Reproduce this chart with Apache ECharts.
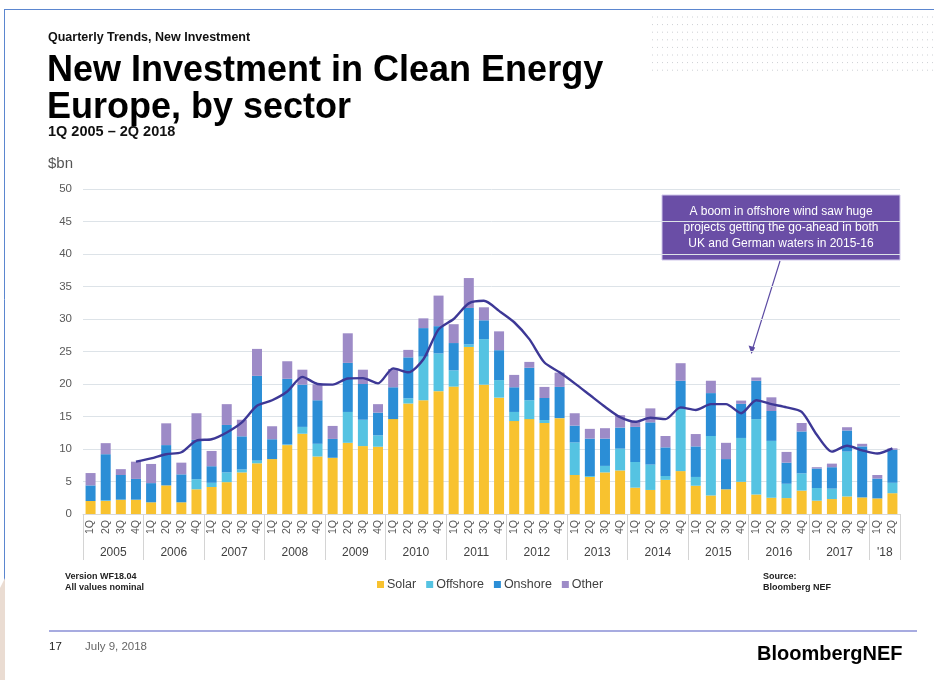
<!DOCTYPE html>
<html>
<head>
<meta charset="utf-8">
<script src="https://cdn.jsdelivr.net/npm/echarts@6/dist/echarts.min.js"></script>
<style>
  html, body { margin: 0; padding: 0; background: #ffffff; }
  #chart { width: 934px; height: 680px; }
</style>
</head>
<body>
<div id="chart"></div>
<script>
// Quarter tick labels, 1Q 2005 through 2Q 2018
const quarterLabels = [
  '1Q','2Q','3Q','4Q', '1Q','2Q','3Q','4Q', '1Q','2Q','3Q','4Q', '1Q','2Q','3Q','4Q',
  '1Q','2Q','3Q','4Q', '1Q','2Q','3Q','4Q', '1Q','2Q','3Q','4Q', '1Q','2Q','3Q','4Q',
  '1Q','2Q','3Q','4Q', '1Q','2Q','3Q','4Q', '1Q','2Q','3Q','4Q', '1Q','2Q','3Q','4Q',
  '1Q','2Q','3Q','4Q', '1Q','2Q'
];
// Year group labels and their centre positions (in quarters from the left edge)
const yearLabels = ['2005','2006','2007','2008','2009','2010','2011','2012','2013','2014','2015','2016','2017',"'18"];
const yearCentres = [2, 6, 10, 14, 18, 22, 26, 30, 34, 38, 42, 46, 50, 53];
const yearBounds = [0, 4, 8, 12, 16, 20, 24, 28, 32, 36, 40, 44, 48, 52, 54];

// New investment by sector, $bn per quarter
const solar = [
  2.0, 2.0, 2.2, 2.2,   1.8, 4.4, 1.8, 3.8,   4.15, 4.9, 6.4, 7.8,   8.45, 10.6, 12.35, 8.85,
  8.65, 10.95, 10.45, 10.35,   14.6, 17.0, 17.5, 18.9,   19.6, 25.7, 19.9, 17.9,   14.3, 14.6, 14.0, 14.75,
  6.0, 5.7, 6.4, 6.7,   4.05, 3.7, 5.25, 6.6,   4.35, 2.85, 3.8, 4.95,   3.0, 2.5, 2.45, 3.6,
  2.05, 2.3, 2.7, 2.55,   2.4, 3.2
];
const offshore = [
  0, 0.1, 0, 0,   0, 0, 0, 1.55,   0.65, 1.5, 0.45, 0.45,   0, 0.1, 1.05, 1.95,
  0, 4.75, 4.05, 1.75,   0, 0.8, 6.7, 5.8,   2.5, 0.4, 7.0, 2.7,   1.4, 2.9, 0.45, 0,
  5.0, 0.15, 1.0, 3.35,   3.95, 3.9, 0.6, 9.55,   1.35, 9.15, 0, 6.75,   11.6, 8.75, 2.2, 2.65,
  1.95, 1.6, 6.9, 0,   0, 1.6
];
const onshore = [
  2.4, 7.1, 3.8, 3.2,   2.95, 6.2, 4.3, 6.05,   2.55, 7.3, 5.1, 13.0,   3.05, 10.1, 6.5, 6.7,
  2.9, 7.55, 5.5, 3.5,   4.9, 6.3, 4.4, 4.2,   4.2, 5.6, 2.9, 4.6,   3.8, 5.0, 3.4, 4.8,
  2.6, 5.75, 4.2, 3.25,   5.4, 6.5, 4.4, 4.35,   4.7, 6.6, 4.65, 5.25,   5.9, 4.6, 3.25, 6.45,
  3.0, 3.3, 3.25, 7.85,   3.05, 5.1
];
const other = [
  1.9, 1.7, 0.9, 2.65,   2.95, 3.35, 1.8, 4.1,   2.35, 3.2, 2.55, 4.15,   2.0, 2.7, 2.3, 2.45,
  2.0, 4.55, 2.2, 1.3,   2.8, 1.15, 1.5, 4.7,   2.9, 4.6, 2.0, 2.9,   1.9, 0.9, 1.7, 2.2,
  1.9, 1.5, 1.6, 1.9,   0.75, 2.15, 1.75, 2.7,   1.9, 1.9, 2.5, 0.5,   0.5, 2.1, 1.65, 1.3,
  0.2, 0.55, 0.5, 0.4,   0.55, 0.2
];
// Four-quarter rolling average of total investment
const rollingAvg = [
  null, null, null, 8.05,   8.55, 9.2, 9.5, 11.3,   11.5, 12.55, 14.1, 16.65,   17.5, 18.85, 21.1, 20.0,
  19.9, 20.85, 20.9, 20.1,   22.4, 21.8, 23.8, 28.4,   30.0, 32.4, 32.8, 31.25,   29.5, 26.9, 23.3, 21.8,
  20.1, 18.3, 16.5, 14.9,   14.2, 14.8, 14.6, 16.4,   16.0, 16.9, 16.9, 15.5,   17.5, 16.9, 16.4, 15.7,
  12.2, 9.6, 10.5, 9.8,   9.3, 10.1
];

const colors = {
  solar: '#f8c22f',
  offshore: '#55c3e2',
  onshore: '#2b8ed6',
  other: '#9d8bc7',
  trend: '#3d3896'
};

const FONT = 'Liberation Sans, Arial, sans-serif';
const NARROW = 'Liberation Sans Narrow, Arial Narrow, Liberation Sans, sans-serif';

const chart = echarts.init(document.getElementById('chart'), null, { renderer: 'canvas' });

// Dotted decoration rows in the top right corner
const dotRows = [];
for (let k = 0; k < 8; k++) {
  dotRows.push({
    type: 'line', silent: true,
    shape: { x1: 652, y1: 17 + k * 7.6, x2: 934, y2: 17 + k * 7.6 },
    style: { stroke: '#cdd0d4', lineWidth: 1, lineDash: [1, 4] }
  });
}

const barBase = { type: 'bar', stack: 'total', barWidth: 10, xAxisIndex: 0, yAxisIndex: 0 };

chart.setOption({
  animation: false,
  backgroundColor: '#ffffff',
  grid: { left: 83, right: 34, top: 189, bottom: 166, containLabel: false },
  legend: {
    data: ['Solar', 'Offshore', 'Onshore', 'Other'],
    left: 372, top: 573,
    icon: 'rect', itemWidth: 7, itemHeight: 7, itemGap: 10,
    textStyle: { fontFamily: FONT, fontSize: 12.5, color: '#404040', padding: [0, 0, 0, -2] }
  },
  xAxis: [
    {
      type: 'category',
      data: quarterLabels,
      boundaryGap: true,
      axisLine: { show: true, lineStyle: { color: '#d9d9d9', width: 1 } },
      axisTick: { show: false },
      axisLabel: {
        rotate: 90, interval: 0, margin: 6,
        fontFamily: FONT, fontSize: 10.5, color: '#595959'
      },
      splitLine: { show: false }
    },
    {
      type: 'value',
      position: 'bottom',
      min: 0, max: 54,
      axisLine: { show: false },
      axisTick: {
        show: true, length: 46,
        customValues: yearBounds,
        lineStyle: { color: '#d4d4d4', width: 1 }
      },
      axisLabel: {
        show: true, margin: 33,
        customValues: yearCentres,
        formatter: function (v) { return yearLabels[yearCentres.indexOf(v)]; },
        fontFamily: FONT, fontSize: 12, color: '#404040'
      },
      splitLine: { show: false }
    }
  ],
  yAxis: {
    type: 'value',
    min: 0, max: 50, interval: 5,
    axisLine: { show: false },
    axisTick: { show: false },
    axisLabel: { margin: 11, fontFamily: FONT, fontSize: 11.5, color: '#595959' },
    splitLine: { lineStyle: { color: '#dde3e8', width: 1 } }
  },
  series: [
    Object.assign({ name: 'Solar', data: solar, itemStyle: { color: colors.solar } }, barBase),
    Object.assign({ name: 'Offshore', data: offshore, itemStyle: { color: colors.offshore } }, barBase),
    Object.assign({ name: 'Onshore', data: onshore, itemStyle: { color: colors.onshore } }, barBase),
    Object.assign({ name: 'Other', data: other, itemStyle: { color: colors.other } }, barBase),
    {
      name: 'Rolling average', type: 'line', data: rollingAvg,
      xAxisIndex: 0, yAxisIndex: 0,
      smooth: 0.25, showSymbol: false, connectNulls: false,
      lineStyle: { color: colors.trend, width: 2.4 },
      z: 5
    }
  ],
  graphic: [
    // slide frame
    { type: 'line', silent: true, shape: { x1: 4, y1: 9.5, x2: 934, y2: 9.5 }, style: { stroke: '#5b86cf', lineWidth: 1 } },
    { type: 'line', silent: true, shape: { x1: 4.5, y1: 9, x2: 4.5, y2: 590 }, style: { stroke: '#5b86cf', lineWidth: 1 } },
    { type: 'polygon', silent: true, shape: { points: [[0, 588], [5, 578], [5, 680], [0, 680]] }, style: { fill: '#eadcd2' } },
    ...dotRows,
    // headings
    { type: 'text', left: 48, top: 31, style: { text: 'Quarterly Trends, New Investment', font: 'bold 12.5px ' + FONT, fill: '#111111' } },
    { type: 'text', left: 47, top: 53, style: { text: 'New Investment in Clean Energy', font: 'bold 36px ' + FONT, fill: '#000000' } },
    { type: 'text', left: 47, top: 90, style: { text: 'Europe, by sector', font: 'bold 36px ' + FONT, fill: '#000000' } },
    { type: 'text', left: 48, top: 124, style: { text: '1Q 2005 – 2Q 2018', font: 'bold 14.5px ' + FONT, fill: '#111111' } },
    { type: 'text', left: 48, top: 156, style: { text: '$bn', font: '15px ' + FONT, fill: '#555555' } },
    // annotation
    {
      type: 'rect', silent: true,
      shape: { x: 662, y: 195, width: 238, height: 65 },
      style: { fill: '#6a4ea6', stroke: '#cfc6ea', lineWidth: 1 }
    },
    {
      type: 'text', silent: true, x: 781, y: 204,
      style: {
        text: 'A boom in offshore wind saw huge\nprojects getting the go-ahead in both\nUK and German waters in 2015-16',
        font: '12px ' + FONT, fill: '#ffffff', align: 'center', lineHeight: 16
      }
    },
    { type: 'line', silent: true, shape: { x1: 780, y1: 261, x2: 752.5, y2: 349 }, style: { stroke: '#5b4aa3', lineWidth: 1.2 } },
    { type: 'polygon', silent: true, shape: { points: [[751.5, 354], [748.6, 345.5], [755.2, 347.5]] }, style: { fill: '#5b4aa3' } },
    // notes under the chart
    { type: 'text', left: 65, top: 571, style: { text: 'Version WF18.04\nAll values nominal', font: 'bold 9px ' + NARROW, fill: '#222222', lineHeight: 11 } },
    { type: 'text', left: 763, top: 571, style: { text: 'Source:\nBloomberg NEF', font: 'bold 9px ' + NARROW, fill: '#222222', lineHeight: 11 } },
    // footer
    { type: 'line', silent: true, shape: { x1: 49, y1: 631, x2: 917, y2: 631 }, style: { stroke: '#a7abe0', lineWidth: 2 } },
    { type: 'text', left: 49, top: 641, style: { text: '17', font: '11.5px ' + FONT, fill: '#222222' } },
    { type: 'text', left: 85, top: 641, style: { text: 'July 9, 2018', font: '11.5px ' + FONT, fill: '#666666' } },
    { type: 'text', left: 757, top: 644, style: { text: 'BloombergNEF', font: 'bold 20px ' + FONT, fill: '#000000' } }
  ]
});
</script>
</body>
</html>
